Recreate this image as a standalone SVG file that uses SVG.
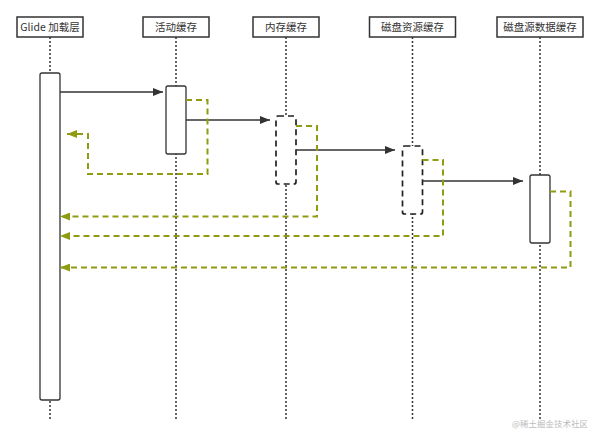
<svg xmlns="http://www.w3.org/2000/svg" width="600" height="439" viewBox="0 0 600 439">
<defs>
<style>
.hdr{fill:#fff;stroke:#333;stroke-width:1.5}
.hdr-t{font-family:"Noto Sans CJK SC","Noto Sans",sans-serif;font-size:10.5px;fill:#333;text-anchor:middle}
.life{stroke:#333;stroke-width:1.5;stroke-dasharray:2 2;fill:none}
.act{fill:#fff;stroke:#333;stroke-width:1.3}
.act-d{fill:#fff;stroke:#222;stroke-width:1.7;stroke-dasharray:6 4}
.call{stroke:#333;stroke-width:1.3;fill:none;marker-end:url(#ah)}
.ret{stroke:#8f9c12;stroke-width:2;stroke-dasharray:6 4;fill:none;marker-end:url(#ag)}
.wm{font-family:"Noto Sans CJK SC",sans-serif;font-size:8.5px;fill:#bbb;text-anchor:end}
</style>
<marker id="ah" markerWidth="10" markerHeight="8" refX="10" refY="4" orient="auto" markerUnits="userSpaceOnUse"><path d="M0,0 L10,4 L0,8 Z" fill="#333"/></marker>
<marker id="ag" markerWidth="10" markerHeight="8" refX="10" refY="4" orient="auto" markerUnits="userSpaceOnUse"><path d="M0,0 L10,4 L0,8 Z" fill="#8f9c12"/></marker>
</defs>
<rect width="600" height="439" fill="#fff"/>
<g id="lifelines">
<line class="life" x1="50" y1="37" x2="50" y2="420"/>
<line class="life" x1="176" y1="37" x2="176" y2="420"/>
<line class="life" x1="286" y1="37" x2="286" y2="420"/>
<line class="life" x1="412.5" y1="37" x2="412.5" y2="420"/>
<line class="life" x1="540" y1="37" x2="540" y2="420"/>
</g>
<g id="glide"><rect class="hdr" x="17" y="17" width="66" height="20"/><text class="hdr-t" x="50" y="31">Glide 加载层</text><rect class="act" x="40" y="73" width="20" height="327" rx="2"/></g>
<g id="active"><rect class="hdr" x="143" y="17" width="66" height="20"/><text class="hdr-t" x="176" y="31">活动缓存</text><rect class="act" x="166" y="86" width="20" height="68" rx="2"/></g>
<g id="memory"><rect class="hdr" x="253" y="17" width="66" height="20"/><text class="hdr-t" x="286" y="31">内存缓存</text><rect class="act-d" x="276" y="116" width="20" height="68" rx="2"/></g>
<g id="diskres"><rect class="hdr" x="369.5" y="17" width="86" height="20"/><text class="hdr-t" x="412.5" y="31">磁盘资源缓存</text><rect class="act-d" x="402.5" y="146" width="20" height="68" rx="2"/></g>
<g id="diskdata"><rect class="hdr" x="497" y="17" width="86" height="20"/><text class="hdr-t" x="540" y="31">磁盘源数据缓存</text><rect class="act" x="530" y="175" width="20" height="68" rx="2"/></g>
<g id="connectors">
<line class="call" x1="60" y1="92" x2="163" y2="92"/>
<line class="call" x1="186" y1="120" x2="270" y2="120"/>
<line class="call" x1="296" y1="150" x2="395" y2="150"/>
<line class="call" x1="422.5" y1="181" x2="523" y2="181"/>
<polyline class="ret" points="186,100 207.5,100 207.5,174 88,174 88,134 67,134"/>
<polyline class="ret" points="296,126 317,126 317,216.5 60,216.5"/>
<polyline class="ret" points="422.5,160 443,160 443,236 60,236"/>
<polyline class="ret" points="550,191.5 570.5,191.5 570.5,267.5 60,267.5"/>
</g>
<text class="wm" x="588" y="427">@稀土掘金技术社区</text>
</svg>
